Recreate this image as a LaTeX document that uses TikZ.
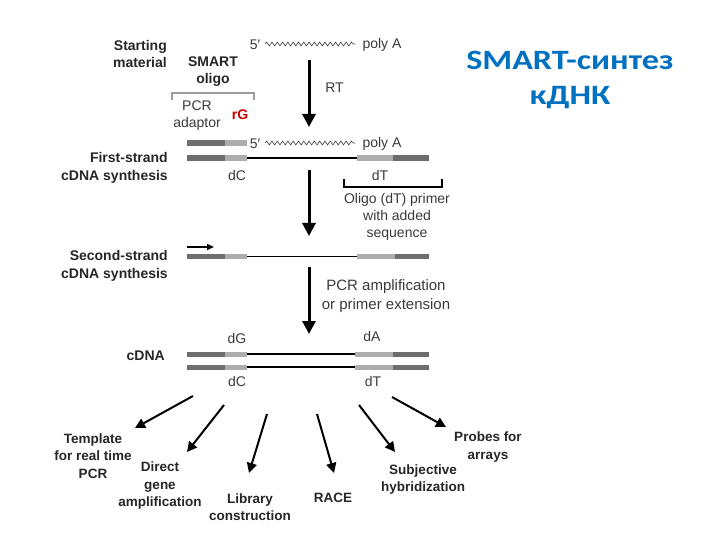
\documentclass[tikz,border=0pt]{standalone}
\usepackage{fontspec}
\setmainfont{Liberation Sans}
\newfontfamily\titlefont[FakeStretch=1.22]{Carlito}
\usetikzlibrary{arrows.meta,decorations.pathmorphing}
\definecolor{darkbar}{HTML}{6E6E6E}
\definecolor{lightbar}{HTML}{ADADAD}
\definecolor{titleblue}{HTML}{0070C0}
\definecolor{rgred}{HTML}{CC0000}
\definecolor{txt}{HTML}{262626}
\definecolor{rtxt}{HTML}{3A3A3A}
\begin{document}
\begin{tikzpicture}[x=1pt,y=-1pt,
  lab/.style={font=\fontsize{14}{17.5}\selectfont\bfseries, text=txt, align=right, inner sep=0},
  blab/.style={font=\fontsize{13.5}{17.5}\selectfont\bfseries, text=txt, align=center, inner sep=0},
  reg/.style={font=\fontsize{14}{17}\selectfont, text=rtxt, align=center, inner sep=0},
  bigarrow/.style={line width=3pt, -{Triangle[length=13pt,width=13pt]}},
  outarrow/.style={line width=2pt, -{Triangle[length=10pt,width=10pt]}},
  wave/.style={decorate, decoration={snake, amplitude=1.9pt, segment length=5.3pt}, line width=0.6pt, draw=rtxt},
  dk/.style={fill=darkbar},
  lt/.style={fill=lightbar}
]
\useasboundingbox (0,0) rectangle (720,540);

% title
\node[font=\titlefont\bfseries\fontsize{28}{35}\selectfont, text=titleblue, align=center, inner sep=0] (title) at (570,80) {SMART-синтез\\кДНК};

% starting material
\node[lab, anchor=east] (start) at (167,54) {Starting\\material};
\node[reg] (p5a) at (255,45) {5′};
\coordinate (w1a) at (265,44);
\coordinate (w1b) at (355,44);
\draw[wave] (w1a) -- (w1b);
\node[reg] (polyA1) at (382,45) {poly A};
\node[lab, align=center] (smart) at (213,71.5) {SMART\\oligo};
\coordinate (bk1) at (172,100);
\coordinate (bk2) at (254,100);
\draw[line width=2pt, draw=lightbar!90!black] (bk1) -- ++(0,-7) -| (bk2);
\node[reg] (pcr) at (197,116) {PCR\\adaptor};
\node[font=\fontsize{14}{17}\selectfont\bfseries, text=rgred, inner sep=0] (rG) at (240,115) {rG};

\coordinate (a1s) at (309,60);
\coordinate (a1e) at (309,127);
\draw[bigarrow] (a1s) -- (a1e);
\node[reg] (rt) at (334.5,88) {RT};

% first strand
\fill[dk] (187,140.5) rectangle (225,146);
\fill[lt] (225,140.5) rectangle (247,146);
\node[reg] (p5b) at (255,144) {5′};
\coordinate (w2a) at (265,143);
\coordinate (w2b) at (355,143);
\draw[wave] (w2a) -- (w2b);
\node[reg] (polyA2) at (382,144) {poly A};

\fill[dk] (187,155.5) rectangle (225,161);
\fill[lt] (225,155.5) rectangle (247,161);
\fill[lt] (357,155.5) rectangle (393,161);
\fill[dk] (393,155.5) rectangle (429,161);
\coordinate (l1a) at (247,158.25);
\coordinate (l1b) at (357,158.25);
\draw[line width=2.2pt] (l1a) -- (l1b);
\node[lab, anchor=east] (first) at (168,168) {First-strand\\cDNA synthesis};
\node[reg] (dC1) at (237,175) {dC};
\node[reg] (dT1) at (380,175) {dT};
\coordinate (bb1) at (344,179);
\coordinate (bb2) at (442,179);
\draw[line width=2pt] (bb1) -- ++(0,8) -| (bb2);
\node[reg] (oligo) at (397,217) {Oligo (dT) primer\\with added\\sequence};

\coordinate (a2s) at (309,170);
\coordinate (a2e) at (309,236);
\draw[bigarrow] (a2s) -- (a2e);

% second strand
\coordinate (sa) at (187,247);
\coordinate (sb) at (214,247);
\draw[line width=2pt, -{Triangle[length=7pt,width=6pt]}] (sa) -- (sb);
\fill[dk] (187,253.5) rectangle (225,259);
\fill[lt] (225,253.5) rectangle (247,259);
\fill[lt] (357,253.5) rectangle (395,259);
\fill[dk] (395,253.5) rectangle (429,259);
\coordinate (l2a) at (247,256.25);
\coordinate (l2b) at (357,256.25);
\draw[line width=1.5pt] (l2a) -- (l2b);
\node[lab, anchor=east] (second) at (168,266) {Second-strand\\cDNA synthesis};

\coordinate (a3s) at (309,267);
\coordinate (a3e) at (309,334);
\draw[bigarrow] (a3s) -- (a3e);
\node[reg, font=\fontsize{15}{19}\selectfont] (pcramp) at (386,296.5) {PCR amplification\\or primer extension};

% cDNA
\fill[dk] (187,351.5) rectangle (225,357);
\fill[lt] (225,351.5) rectangle (247,357);
\fill[lt] (355,351.5) rectangle (393,357);
\fill[dk] (393,351.5) rectangle (429,357);
\coordinate (l3a) at (247,354.25);
\coordinate (l3b) at (355,354.25);
\draw[line width=1.6pt] (l3a) -- (l3b);
\fill[dk] (187,364.5) rectangle (225,370);
\fill[lt] (225,364.5) rectangle (247,370);
\fill[lt] (355,364.5) rectangle (393,370);
\fill[dk] (393,364.5) rectangle (429,370);
\coordinate (l4a) at (247,367.25);
\coordinate (l4b) at (355,367.25);
\draw[line width=1.6pt] (l4a) -- (l4b);
\node[lab, anchor=east] (cdna) at (165,356) {cDNA};
\node[reg] (dG) at (237,338) {dG};
\node[reg] (dA) at (372,336) {dA};
\node[reg] (dC2) at (237,381) {dC};
\node[reg] (dT2) at (373,381) {dT};

% outputs
\node[blab] (tmpl) at (93,456) {Template\\for real time\\PCR};
\node[blab] (direct) at (160,486) {Direct\\gene\\amplification};
\node[blab] (lib) at (250,507) {Library\\construction};
\node[blab] (race) at (333,498) {RACE};
\node[blab] (subj) at (423,479.5) {Subjective\\hybridization};
\node[blab] (probes) at (488,447) {Probes for\\arrays};

\coordinate (o1s) at (193,396); \coordinate (o1e) at (135,428);
\coordinate (o2s) at (224,405); \coordinate (o2e) at (187,452);
\coordinate (o3s) at (267,414); \coordinate (o3e) at (249,473);
\coordinate (o4s) at (317,414); \coordinate (o4e) at (334,473);
\coordinate (o5s) at (359,405); \coordinate (o5e) at (395,452);
\coordinate (o6s) at (392,397); \coordinate (o6e) at (446,427);
\draw[outarrow] (o1s) -- (o1e);
\draw[outarrow] (o2s) -- (o2e);
\draw[outarrow] (o3s) -- (o3e);
\draw[outarrow] (o4s) -- (o4e);
\draw[outarrow] (o5s) -- (o5e);
\draw[outarrow] (o6s) -- (o6e);
\end{tikzpicture}
\end{document}
